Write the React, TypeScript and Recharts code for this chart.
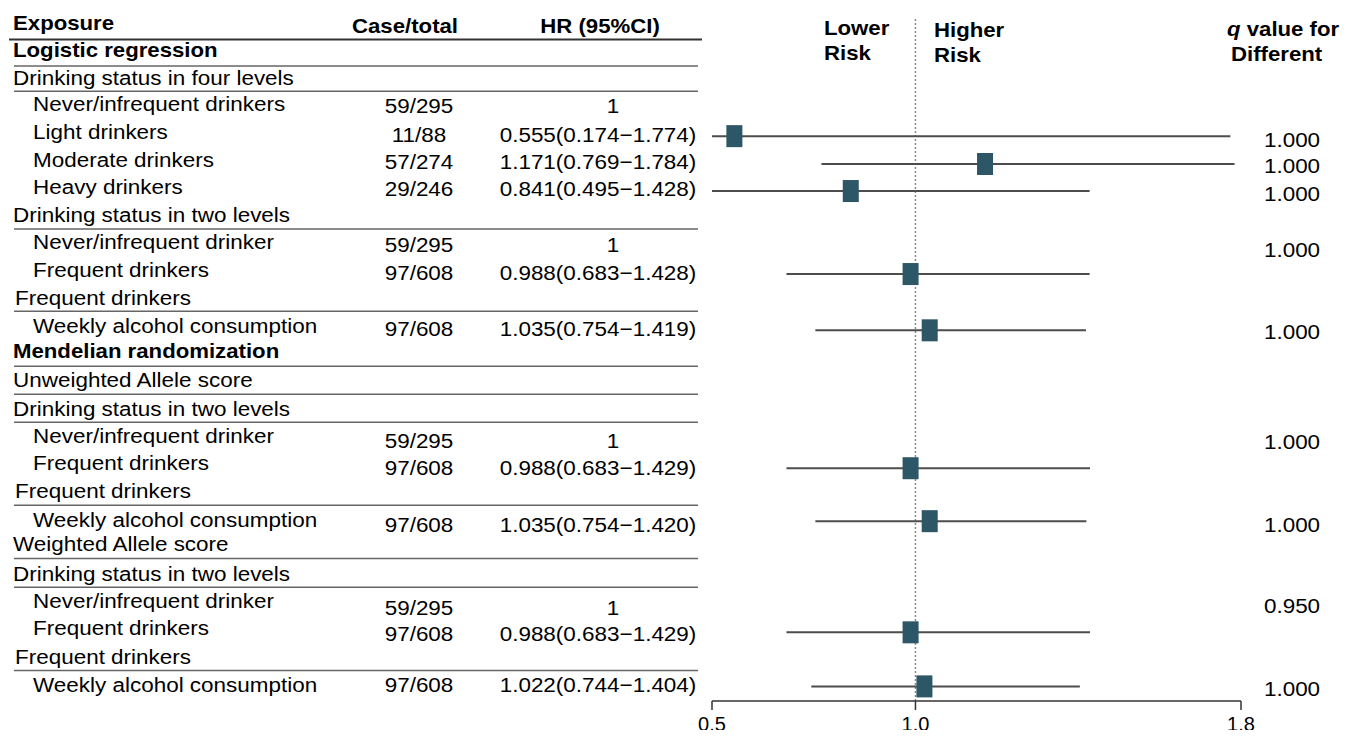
import React from "react";
import { ComposedChart, Scatter, XAxis, YAxis, ReferenceLine } from "recharts";

// left-hand table labels, top to bottom
const rowLabels = [
  "Logistic regression",
  "Drinking status in four levels",
  "Never/infrequent drinkers",
  "Light drinkers",
  "Moderate drinkers",
  "Heavy drinkers",
  "Drinking status in two levels",
  "Never/infrequent drinker",
  "Frequent drinkers",
  "Frequent drinkers",
  "Weekly alcohol consumption",
  "Mendelian randomization",
  "Unweighted Allele score",
  "Drinking status in two levels",
  "Never/infrequent drinker",
  "Frequent drinkers",
  "Frequent drinkers",
  "Weekly alcohol consumption",
  "Weighted Allele score",
  "Drinking status in two levels",
  "Never/infrequent drinker",
  "Frequent drinkers",
  "Frequent drinkers",
  "Weekly alcohol consumption",
];

// one entry per estimate row
const caseTotal = ["59/295", "11/88", "57/274", "29/246", "59/295", "97/608", "97/608", "59/295", "97/608", "97/608", "59/295", "97/608", "97/608"];
const hrText = [
  "1",
  "0.555(0.174\u22121.774)",
  "1.171(0.769\u22121.784)",
  "0.841(0.495\u22121.428)",
  "1",
  "0.988(0.683\u22121.428)",
  "1.035(0.754\u22121.419)",
  "1",
  "0.988(0.683\u22121.429)",
  "1.035(0.754\u22121.420)",
  "1",
  "0.988(0.683\u22121.429)",
  "1.022(0.744\u22121.404)",
];
const hr = [null, 0.555, 1.171, 0.841, null, 0.988, 1.035, null, 0.988, 1.035, null, 0.988, 1.022];
const ciLow = [null, 0.174, 0.769, 0.495, null, 0.683, 0.754, null, 0.683, 0.754, null, 0.683, 0.744];
const ciHigh = [null, 1.774, 1.784, 1.428, null, 1.428, 1.419, null, 1.429, 1.42, null, 1.429, 1.404];
const qValue = [null, "1.000", "1.000", "1.000", "1.000", null, "1.000", "1.000", null, "1.000", "0.950", null, "1.000"];

const xTicks = [0.5, 1.0, 1.8];

// ---- layout (row units on the y scale) ----
const rowKind = ["b", "h", "i", "i", "i", "i", "h", "i", "i", "s", "i", "b", "h", "h", "i", "i", "s", "i", "h", "h", "i", "i", "s", "i"];
const rowY = [1, 1.98, 2.92, 3.94, 4.95, 5.93, 6.95, 7.93, 8.94, 9.96, 10.97, 11.92, 12.93, 13.99, 14.96, 15.94, 16.96, 18.01, 18.88, 19.97, 20.95, 21.93, 22.98, 23.99];
const textY = [3.0, 4.05, 5.04, 6.02, 8.05, 9.05, 11.08, 15.15, 16.14, 18.19, 21.19, 22.15, 24.01];
const boxY = [null, 4.12, 5.13, 6.11, null, 9.12, 11.16, null, 16.16, 18.08, null, 22.11, 24.07];
const qY = [null, 4.23, 5.17, 6.19, 8.22, null, 11.19, 15.18, null, 18.19, 21.13, null, 24.14];
const sepY = [0.62, 1.58, 2.49, 7.49, 10.47, 12.46, 13.48, 14.49, 17.5, 19.43, 20.48, 23.49];
const HEAD = 0;

const FONT = "'Liberation Sans', Arial, Helvetica, sans-serif";
const BOX = "#2d5666";

const Txt = ({ x, y, bold, anchor = "start", children }: any) => (
  <text
    transform={`translate(${x},${y}) scale(${bold ? 1.11 : 1.07},1)`}
    textAnchor={anchor}
    dy="0.36em"
    fontSize={bold ? 20 : 21}
    fontWeight={bold ? 700 : 400}
    fontFamily={FONT}
    fill="#000"
  >
    {children}
  </text>
);

const labelX: Record<string, number> = { b: 13, h: 13, s: 15, i: 33 };

const allTicks = Array.from(
  new Set([HEAD, ...rowY, ...textY, ...(qY.filter((v) => v != null) as number[]), ...sepY])
).sort((a, b) => a - b);

// every piece of table text hangs off a tick of the y axis
const TableTick = (props: any) => {
  const v = props.payload.value;
  const y = props.y;
  const parts: React.ReactNode[] = [];
  if (v === HEAD) {
    parts.push(
      <g key="head">
        <Txt x={13} y={y} bold>Exposure</Txt>
        <Txt x={405} y={y + 3} bold anchor="middle">Case/total</Txt>
        <Txt x={600} y={y + 3} bold anchor="middle">HR (95%CI)</Txt>
        <Txt x={824} y={y + 5} bold>Lower</Txt>
        <Txt x={824} y={y + 30} bold>Risk</Txt>
        <Txt x={934} y={y + 7} bold>Higher</Txt>
        <Txt x={934} y={y + 32} bold>Risk</Txt>
        <Txt x={1227} y={y + 6} bold>
          <tspan fontStyle="italic">q</tspan> value for
        </Txt>
        <Txt x={1231} y={y + 31} bold>Different</Txt>
      </g>
    );
  }
  const r = rowY.indexOf(v);
  if (r >= 0) {
    const k = rowKind[r];
    parts.push(
      <Txt key="lab" x={labelX[k]} y={y} bold={k === "b"}>
        {rowLabels[r]}
      </Txt>
    );
  }
  const t = textY.indexOf(v);
  if (t >= 0) {
    parts.push(
      <Txt key="case" x={419} y={y} anchor="middle">
        {caseTotal[t]}
      </Txt>,
      <Txt key="hr" x={hrText[t] === "1" ? 613 : 598} y={y} anchor="middle">
        {hrText[t]}
      </Txt>
    );
  }
  const q = qY.indexOf(v);
  if (q >= 0) {
    parts.push(
      <Txt key="q" x={1292} y={y} anchor="middle">
        {qValue[q]}
      </Txt>
    );
  }
  const s = sepY.indexOf(v);
  if (s >= 0) {
    parts.push(
      <line
        key="sep"
        x1={s === 0 ? 9 : 14}
        x2={s === 0 ? 702 : 698}
        y1={y}
        y2={y}
        stroke={s === 0 ? "#333" : "#666"}
        strokeWidth={s === 0 ? 2 : 1.5}
      />
    );
  }
  return <g>{parts}</g>;
};

const points = hr
  .map((v, i) => (v == null ? null : { hr: v, row: boxY[i] }))
  .filter(Boolean) as any[];

const ciRows = hr
  .map((v, i) => (v == null ? null : { lo: ciLow[i] as number, hi: ciHigh[i] as number, row: boxY[i] as number }))
  .filter(Boolean) as { lo: number; hi: number; row: number }[];

const Square = (p: any) => (
  <rect x={p.cx - 8} y={p.cy - 11} width={16} height={22} fill={BOX} />
);

export default function App() {
  return (
    <div style={{ margin: -8, width: 1349, height: 738, background: "#fff" }}>
      <ComposedChart
        width={1349}
        height={738}
        margin={{ top: 17, right: 108, bottom: 7, left: 711 }}
      >
        <XAxis
          type="number"
          dataKey="hr"
          domain={[0.5, 1.8]}
          ticks={xTicks}
          allowDataOverflow
          height={30}
          tickSize={9}
          tickMargin={7}
          tickFormatter={(v: number) => v.toFixed(1)}
          axisLine={{ stroke: "#333", strokeWidth: 1.5 }}
          tickLine={{ stroke: "#333", strokeWidth: 1.5 }}
          tick={{ fontSize: 20, fill: "#000", fontFamily: FONT }}
        />
        <YAxis
          yAxisId="main"
          type="number"
          dataKey="row"
          domain={[-0.2, 24.6]}
          reversed
          allowDataOverflow
          ticks={allTicks}
          interval={0}
          tick={<TableTick />}
          width={1}
          axisLine={false}
          tickLine={false}
        />
        <ReferenceLine
          x={1}
          yAxisId="main"
          stroke="#888"
          strokeDasharray="2 2"
          strokeWidth={1.5}
        />
        {ciRows.map((c, i) => (
          <ReferenceLine
            key={i}
            yAxisId="main"
            segment={[
              { x: c.lo, y: c.row },
              { x: c.hi, y: c.row },
            ]}
            ifOverflow="hidden"
            stroke="#4d4d4d"
            strokeWidth={2}
          />
        ))}
        <Scatter
          yAxisId="main"
          data={points}
          shape={<Square />}
          isAnimationActive={false}
        />
      </ComposedChart>
    </div>
  );
}
